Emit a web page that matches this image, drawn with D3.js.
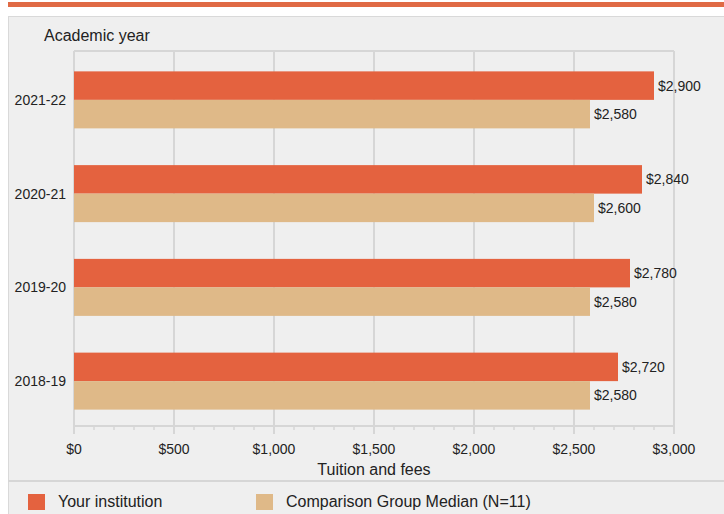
<!DOCTYPE html>
<html lang="en">
<head>
  <meta charset="utf-8">
  <title>Tuition and fees</title>
  <script src="https://d3js.org/d3.v7.min.js"></script>
  <style>
    body { margin: 0; background: #fff; }
    text { font-family: "Liberation Sans", Arial, sans-serif; fill: #222; }
  </style>
</head>
<body>
<script>
  var years = ["2021-22", "2020-21", "2019-20", "2018-19"];
  var yourInstitution = [2900, 2840, 2780, 2720];
  var comparisonMedian = [2580, 2600, 2580, 2580];
  var seriesNames = ["Your institution", "Comparison Group Median (N=11)"];
  var seriesColors = ["#e4623f", "#dfb988"];
  var xTicks = [0, 500, 1000, 1500, 2000, 2500, 3000];

  var width = 724, height = 514;
  var svg = d3.select("body").append("svg")
    .attr("width", width).attr("height", height);

  // header stripe + panel
  svg.append("rect").attr("x", 8).attr("y", 2).attr("width", width - 8).attr("height", 5)
    .attr("fill", "#e06a45");
  svg.append("rect").attr("x", 8.5).attr("y", 16.5).attr("width", width).attr("height", height)
    .attr("fill", "#efefef").attr("stroke", "#d9d9d9");

  var plotLeft = 74, plotRight = 674, plotTop = 51, plotBottom = 426;

  var x = d3.scaleLinear().domain([0, 3000]).range([plotLeft, plotRight]);
  var y = d3.scaleBand().domain(years).range([53, 428]);
  var yInner = d3.scaleBand().domain([0, 1]).range([0, 57]);

  // grid
  svg.append("line").attr("x1", plotLeft).attr("x2", plotRight).attr("y1", plotTop).attr("y2", plotTop)
    .attr("stroke", "#d6d6d6").attr("stroke-width", 2);
  svg.selectAll(".grid").data(xTicks).enter().append("line")
    .attr("x1", d => x(d)).attr("x2", d => x(d))
    .attr("y1", plotTop).attr("y2", plotBottom + 8)
    .attr("stroke", "#d6d6d6").attr("stroke-width", 2);

  // minor ticks
  svg.selectAll(".minor").data(d3.range(0, 3001, 100)).enter().append("line")
    .attr("x1", d => x(d)).attr("x2", d => x(d))
    .attr("y1", plotBottom).attr("y2", plotBottom + 4)
    .attr("stroke", "#d6d6d6").attr("stroke-width", 1.5);
  svg.append("line").attr("x1", plotLeft).attr("x2", plotRight).attr("y1", plotBottom).attr("y2", plotBottom)
    .attr("stroke", "#d6d6d6").attr("stroke-width", 2);

  var groups = years.map(function(yr, i) {
    return { year: yr, values: [yourInstitution[i], comparisonMedian[i]] };
  });

  var g = svg.selectAll(".grp").data(groups).enter().append("g")
    .attr("transform", d => "translate(0," + (y(d.year) + y.bandwidth() / 2 - 28.5) + ")");

  g.selectAll("rect").data(d => d.values).enter().append("rect")
    .attr("x", x(0))
    .attr("y", (d, i) => yInner(i))
    .attr("width", d => x(d) - x(0))
    .attr("height", yInner.bandwidth())
    .attr("fill", (d, i) => seriesColors[i]);

  g.selectAll(".val").data(d => d.values).enter().append("text")
    .attr("x", d => x(d) + 4)
    .attr("y", (d, i) => yInner(i) + yInner.bandwidth() / 2)
    .attr("dy", "0.35em")
    .attr("font-size", 14)
    .text(d => d3.format("$,")(d));

  // y labels
  svg.selectAll(".ylab").data(years).enter().append("text")
    .attr("x", 66).attr("y", d => y(d) + y.bandwidth() / 2)
    .attr("dy", "0.35em").attr("text-anchor", "end").attr("font-size", 14)
    .text(d => d);

  svg.append("text").attr("x", 44).attr("y", 41).attr("font-size", 16).text("Academic year");

  // x labels
  svg.selectAll(".xlab").data(xTicks).enter().append("text")
    .attr("x", d => x(d)).attr("y", 454).attr("text-anchor", "middle").attr("font-size", 14)
    .text(d => d3.format("$,")(d));
  svg.append("text").attr("x", (plotLeft + plotRight) / 2).attr("y", 475).attr("text-anchor", "middle")
    .attr("font-size", 16).text("Tuition and fees");

  // legend
  svg.append("line").attr("x1", 8).attr("x2", width).attr("y1", 481).attr("y2", 481)
    .attr("stroke", "#d6d6d6").attr("stroke-width", 2);
  var legX = [28, 256];
  var leg = svg.selectAll(".leg").data(seriesNames).enter().append("g")
    .attr("transform", (d, i) => "translate(" + legX[i] + ",494)");
  leg.append("rect").attr("width", 17).attr("height", 16).attr("fill", (d, i) => seriesColors[i]);
  leg.append("text").attr("x", 30).attr("y", 13).attr("font-size", 16)
    .text(d => d);
</script>
</body>
</html>
